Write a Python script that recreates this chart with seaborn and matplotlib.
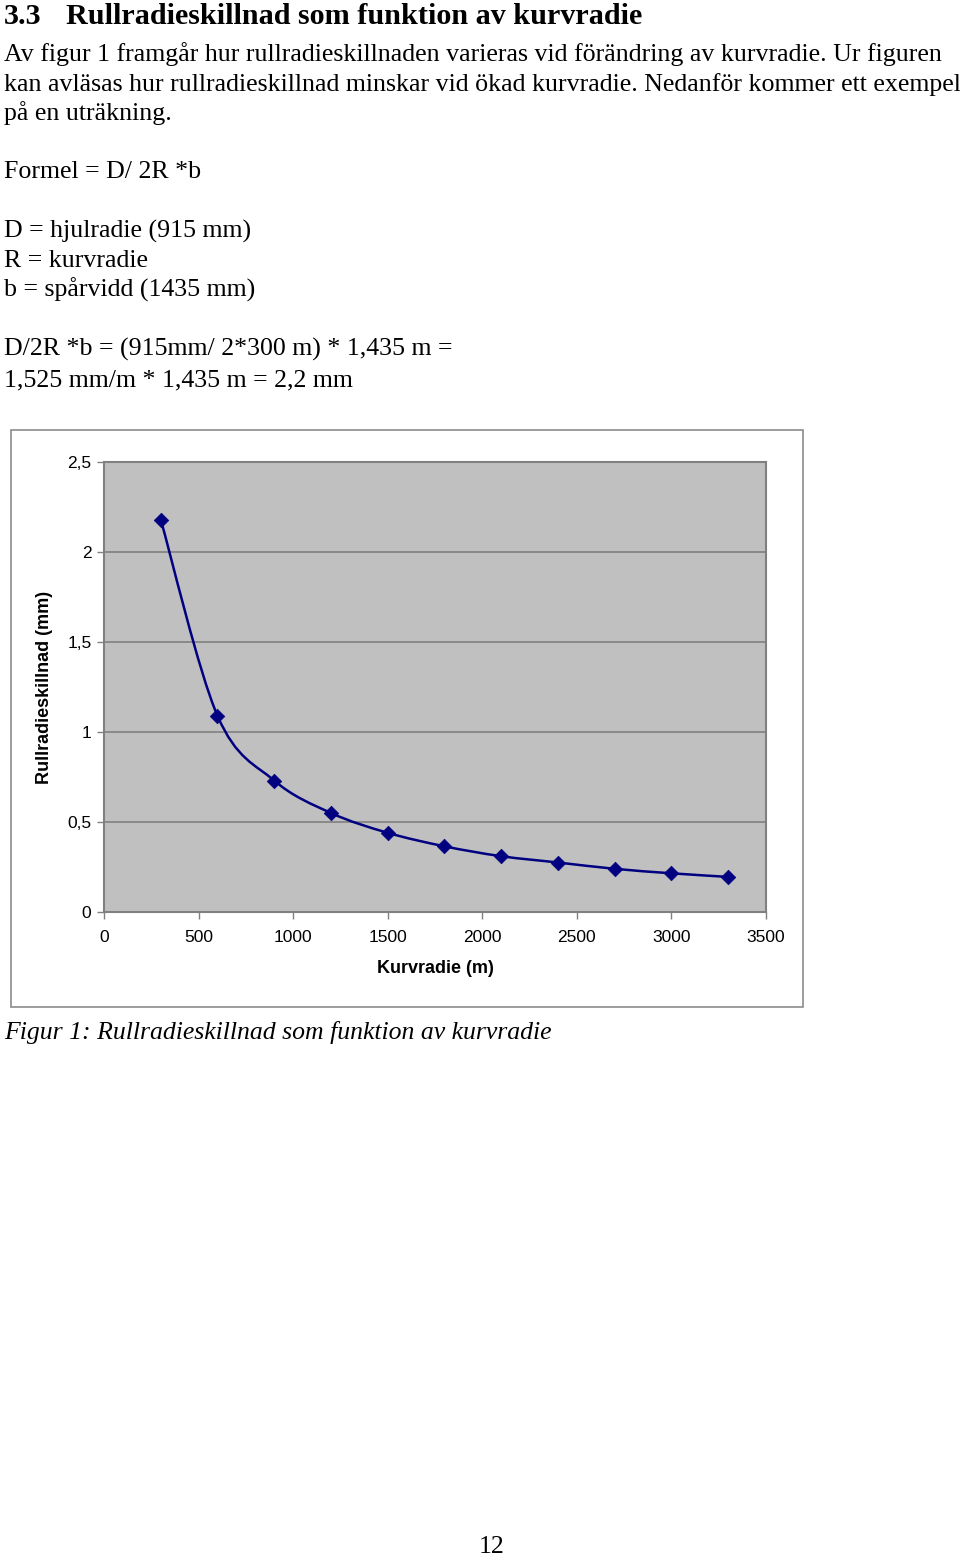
import numpy as np
import matplotlib
matplotlib.use("Agg")
import matplotlib.pyplot as plt
from matplotlib.path import Path
from matplotlib.patches import PathPatch, Rectangle
import seaborn as sns

# ---- data ----
kurvradie = [300, 600, 900, 1200, 1500, 1800, 2100, 2400, 2700, 3000, 3300]
rullradie = [2.18, 1.09, 0.73, 0.55, 0.44, 0.365, 0.31, 0.275, 0.24, 0.215, 0.195]
x_ticks = [0, 500, 1000, 1500, 2000, 2500, 3000, 3500]
x_tick_labels = ["0", "500", "1000", "1500", "2000", "2500", "3000", "3500"]
y_ticks = [0, 0.5, 1, 1.5, 2, 2.5]
y_tick_labels = ["0", "0,5", "1", "1,5", "2", "2,5"]

heading_num = "3.3"
heading = "Rullradieskillnad som funktion av kurvradie"
body_lines = [
    "Av figur 1 framgår hur rullradieskillnaden varieras vid förändring av kurvradie. Ur figuren",
    "kan avläsas hur rullradieskillnad minskar vid ökad kurvradie. Nedanför kommer ett exempel",
    "på en uträkning.",
]
formula_lines = [
    ("Formel = D/ 2R *b", 178),
    ("D = hjulradie (915 mm)", 238),
    ("R = kurvradie", 267),
    ("b = spårvidd (1435 mm)", 297),
    ("D/2R *b = (915mm/ 2*300 m) * 1,435 m =", 356),
    ("1,525 mm/m * 1,435 m = 2,2 mm", 386),
]
caption = "Figur 1: Rullradieskillnad som funktion av kurvradie"
xlabel = "Kurvradie (m)"
ylabel = "Rullradieskillnad (mm)"
page_no = "12"

# ---- figure ----
sns.set_theme(style="white")
plt.rcParams["font.family"] = ["Liberation Sans", "DejaVu Sans"]
plt.rcParams["text.color"] = "black"
plt.rcParams["axes.labelcolor"] = "black"

W, H = 960, 1556
fig = plt.figure(figsize=(W / 100, H / 100), dpi=100)
fig.patch.set_facecolor("white")

def fx(px):
    return px / W

def fy(py):
    return 1 - py / H

serif = ["Liberation Serif", "DejaVu Serif"]

# page text
fig.text(fx(4), fy(24), heading_num, family=serif, fontsize=21.7, fontweight="bold", va="baseline")
fig.text(fx(66), fy(24), heading, family=serif, fontsize=21.7, fontweight="bold", va="baseline")
for i, line in enumerate(body_lines):
    fig.text(fx(4), fy(61 + 29.5 * i), line, family=serif, fontsize=18.6, va="baseline")
for line, yb in formula_lines:
    fig.text(fx(4), fy(yb), line, family=serif, fontsize=18.6, va="baseline")
fig.text(fx(4), fy(1039), caption, family=serif, fontsize=18.5, style="italic", va="baseline")
fig.text(fx(492), fy(1553), page_no, family=serif, fontsize=18.6, ha="center", va="baseline")

# chart outer frame
fig.patches.append(Rectangle((fx(11), fy(1007)), fx(803) - fx(11), fy(430) - fy(1007),
                             transform=fig.transFigure, fill=False, edgecolor="#8c8c8c",
                             linewidth=1.2, zorder=0))

# axes
ax = fig.add_axes([fx(104), fy(912), fx(766) - fx(104), fy(462) - fy(912)])
ax.set_facecolor("#c0c0c0")
ax.set_xlim(0, 3500)
ax.set_ylim(0, 2.5)

navy = "#000080"

# smoothed line (Excel-style smoothing, drawn as Bezier path in data coords)
pts = np.column_stack([kurvradie, rullradie]).astype(float)
verts = [tuple(pts[0])]
codes = [Path.MOVETO]
n = len(pts)
for i in range(n - 1):
    p_prev = pts[i - 1] if i > 0 else pts[i]
    p0 = pts[i]
    p1 = pts[i + 1]
    p_next = pts[i + 2] if i + 2 < n else pts[i + 1]
    c1 = p0 + (p1 - p_prev) / 6.0
    c2 = p1 - (p_next - p0) / 6.0
    verts += [tuple(c1), tuple(c2), tuple(p1)]
    codes += [Path.CURVE4, Path.CURVE4, Path.CURVE4]
ax.add_patch(PathPatch(Path(verts, codes), facecolor="none", edgecolor=navy,
                       linewidth=1.8, zorder=3))

sns.scatterplot(x=kurvradie, y=rullradie, ax=ax, marker="D", s=55, color=navy,
                edgecolor=navy, linewidth=0.5, zorder=4, legend=False)

ax.set_xticks(x_ticks)
ax.set_xticklabels(x_tick_labels)
ax.set_yticks(y_ticks)
ax.set_yticklabels(y_tick_labels)
ax.grid(axis="y", color="#808080", linewidth=1.2)
ax.grid(axis="x", visible=False)
ax.set_axisbelow(True)
for s in ax.spines.values():
    s.set_color("#808080")
    s.set_linewidth(1.5)
    s.set_visible(True)
ax.tick_params(axis="both", which="major", direction="out", colors="#808080",
               labelcolor="black", labelsize=12.5, length=5, width=1)
ax.tick_params(axis="x", pad=8)
ax.tick_params(axis="y", pad=4)
ax.tick_params(left=True, bottom=True)

ax.set_xlabel(xlabel, fontsize=13, fontweight="bold", labelpad=11, color="black")
ax.set_ylabel(ylabel, fontsize=13, fontweight="bold", labelpad=10, color="black")

fig.savefig("out.png", dpi=100, facecolor="white")
